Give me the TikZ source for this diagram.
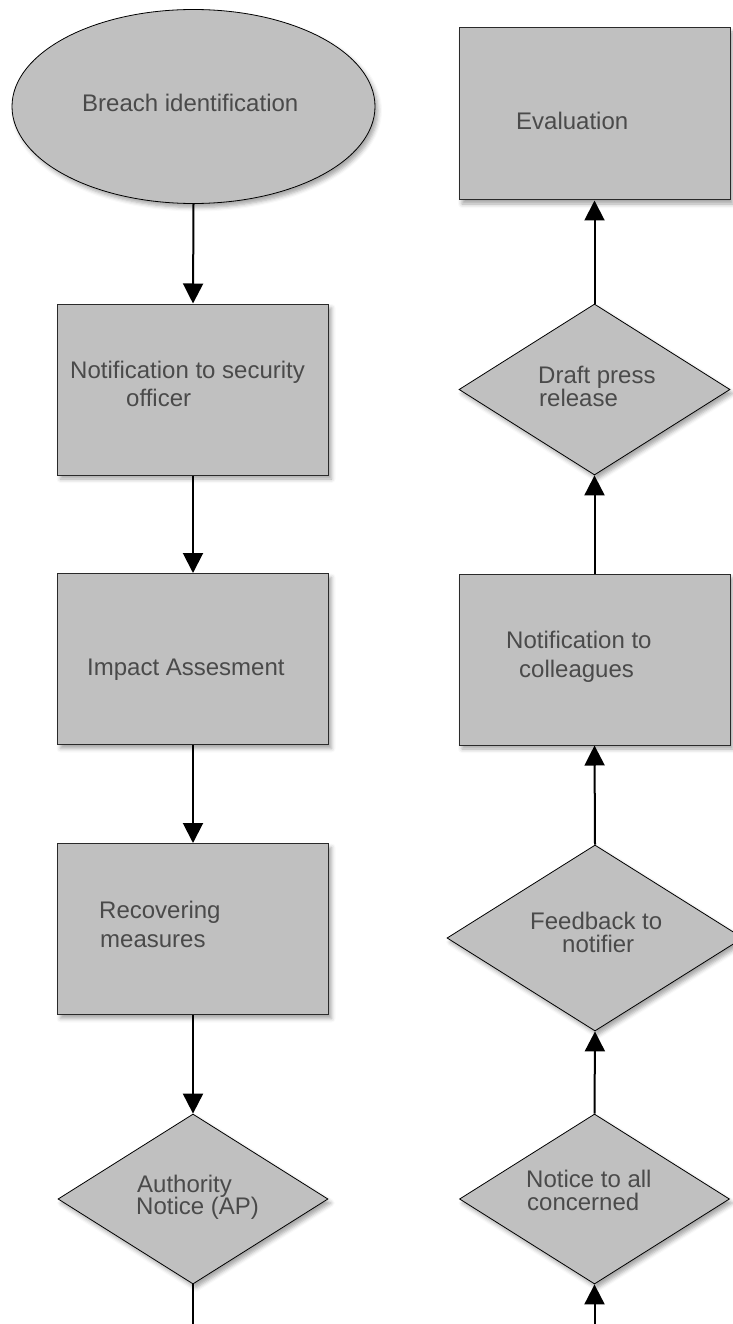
\documentclass[tikz,border=0pt]{standalone}
\usepackage{fontspec}
\setmainfont{Liberation Sans}
\usetikzlibrary{shapes.geometric,arrows.meta,shadows.blur}
\definecolor{boxfill}{HTML}{C0C0C0}
\definecolor{boxline}{HTML}{2A2A2A}
\definecolor{txt}{HTML}{4A4A4A}
\tikzset{
  sh/.style={blur shadow={shadow xshift=3pt,shadow yshift=-4pt,shadow blur radius=4pt,shadow opacity=35}},
  stepbox/.style={draw=boxline,line width=1pt,fill=boxfill,rectangle,inner sep=0pt,minimum width=271pt,minimum height=171pt,sh},
  decbox/.style={draw=black,line width=0.8pt,fill=boxfill,diamond,inner sep=0pt,minimum width=271pt,minimum height=171pt,sh},
  startbox/.style={draw=black,line width=0.8pt,fill=boxfill,ellipse,inner sep=0pt,minimum width=363pt,minimum height=194pt,sh},
  lbl/.style={anchor=base west,inner sep=0pt,text=txt,font=\fontsize{24}{26}\selectfont},
  flow/.style={-{Triangle[width=20pt,length=20pt]},line width=2pt,black},
  flowline/.style={line width=2pt,black}
}
\begin{document}
\begin{tikzpicture}[x=1pt,y=-1pt]
\useasboundingbox (0,0) rectangle (732,1324);
% left column
\node[startbox] (bi) at (193.5,106.5) {};
\node[stepbox] (nso) at (193,389.5) {};
\node[stepbox] (ia) at (193,659) {};
\node[stepbox] (rm) at (193,929) {};
\node[decbox,minimum width=270pt,minimum height=170pt] (an) at (193,1199) {};
\coordinate (lend) at (193,1324);
% right column
\node[stepbox,minimum height=172pt] (ev) at (594.5,114) {};
\node[decbox] (dpr) at (594.5,389.5) {};
\node[stepbox] (nc) at (594.5,659.5) {};
\node[decbox,minimum width=296pt,minimum height=186pt] (fn) at (595,938) {};
\node[decbox,minimum width=270pt,minimum height=170pt] (nac) at (594.5,1199) {};
\coordinate (rstart) at (594.5,1324);
% texts
\node[lbl] (t1) at (82,112) {Breach identification};
\node[lbl] (t2a) at (70,378) {Notification to security};
\node[lbl] (t2b) at (126,406) {officer};
\node[lbl] (t3) at (87,675) {Impact Assesment};
\node[lbl] (t4a) at (99,918) {Recovering};
\node[lbl] (t4b) at (100,947) {measures};
\node[lbl] (t5a) at (137,1192) {Authority};
\node[lbl] (t5b) at (136,1214) {Notice (AP)};
\node[lbl] (t6) at (516,130) {Evaluation};
\node[lbl] (t7a) at (538,383) {Draft press};
\node[lbl] (t7b) at (539,406) {release};
\node[lbl] (t8a) at (506,648) {Notification to};
\node[lbl] (t8b) at (519,677) {colleagues};
\node[lbl] (t9a) at (530,929) {Feedback to};
\node[lbl] (t9b) at (562,952) {notifier};
\node[lbl] (t10a) at (526,1187) {Notice to all};
\node[lbl] (t10b) at (527,1210) {concerned};
% connectors
\draw[flow] (bi.south) -- (nso.north);
\draw[flow] (nso.south) -- (ia.north);
\draw[flow] (ia.south) -- (rm.north);
\draw[flow] (rm.south) -- (an.north);
\draw[flowline] (an.south) -- (lend);
\draw[flow] (rstart) -- (nac.south);
\draw[flow] (nac.north) -- (fn.south);
\draw[flow] (fn.north) -- (nc.south);
\draw[flow] (nc.north) -- (dpr.south);
\draw[flow] (dpr.north) -- (ev.south);
\end{tikzpicture}
\end{document}
